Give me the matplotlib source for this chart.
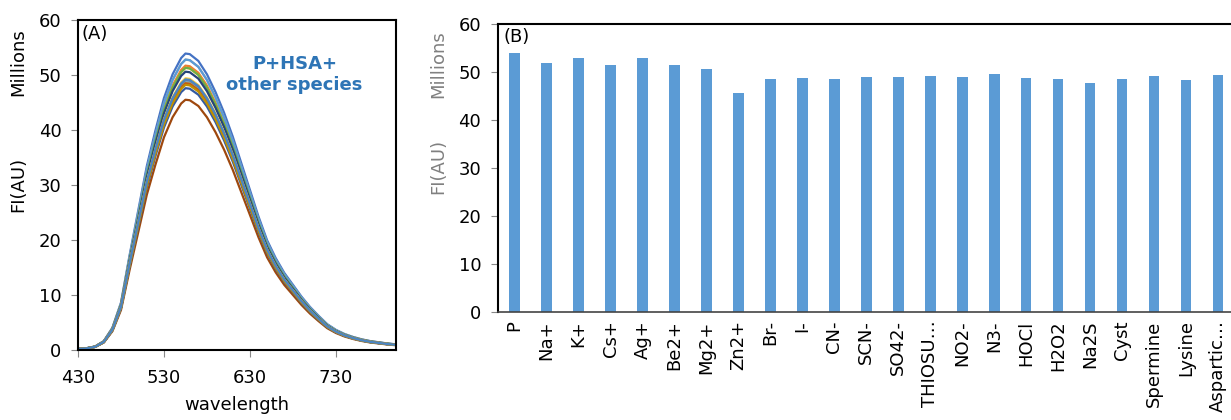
import numpy as np
import matplotlib
matplotlib.use('Agg')
import matplotlib.pyplot as plt

plt.rcParams['font.family'] = ['DejaVu Sans']

# species and peak intensities (millions)
species = ['P', 'Na+', 'K+', 'Cs+', 'Ag+', 'Be2+', 'Mg2+', 'Zn2+', 'Br-', 'I-',
           'CN-', 'SCN-', 'SO42-', 'THIOSU…', 'NO2-', 'N3-', 'HOCl', 'H2O2',
           'Na2S', 'Cyst', 'Spermine', 'Lysine', 'Aspartic…']
peaks = [53.9, 51.7, 52.8, 51.3, 52.8, 51.3, 50.6, 45.5, 48.5, 48.75,
         48.4, 48.9, 48.9, 49.1, 48.9, 49.4, 48.75, 48.5,
         47.6, 48.5, 49.1, 48.2, 49.2]

# emission spectrum shape, relative to peak
wl = [430, 440, 450, 460, 470, 480, 490, 500, 510, 520, 530, 540, 550, 555,
      560, 570, 580, 590, 600, 610, 620, 630, 640, 650, 660, 670, 680, 690,
      700, 710, 720, 730, 740, 750, 760, 770, 780, 790, 800]
rel = [0.004, 0.006, 0.012, 0.03, 0.075, 0.16, 0.32, 0.47, 0.62, 0.74, 0.85,
       0.93, 0.985, 1.0, 0.998, 0.975, 0.93, 0.87, 0.80, 0.72, 0.63, 0.54,
       0.45, 0.37, 0.31, 0.26, 0.22, 0.18, 0.145, 0.115, 0.087, 0.068, 0.054,
       0.044, 0.036, 0.03, 0.026, 0.022, 0.019]

colors = ['#4472C4', '#ED7D31', '#A5A5A5', '#FFC000', '#5B9BD5', '#70AD47',
          '#264478', '#9E480E', '#636363', '#997300', '#255E91', '#43682B',
          '#698ED0', '#F1975A', '#B7B7B7', '#FFCD33', '#7CAFDD', '#8CC168',
          '#335AA1', '#C55A11', '#7C7C7C', '#BF9000', '#4A85C4']

fs = 13
fig = plt.figure(figsize=(12.31, 4.2), dpi=100)

# ---- panel A
ax1 = fig.add_axes([0.0634, 0.1667, 0.2583, 0.7857])
for pk, c in zip(peaks, colors):
    ax1.plot(wl, np.array(rel) * pk, color=c, lw=1.6)
ax1.set_xlim(430, 800)
ax1.set_ylim(0, 60)
ax1.set_xticks([430, 530, 630, 730])
ax1.set_yticks(range(0, 61, 10))
ax1.tick_params(labelsize=fs, direction='out', color='#888888', length=5)
ax1.tick_params(axis='x', pad=9)
ax1.tick_params(axis='y', pad=7)
for s in ax1.spines.values():
    s.set_linewidth(1.5)
ax1.text(0.01, 0.985, '(A)', transform=ax1.transAxes, fontsize=fs, va='top')
ax1.text(0.681, 0.835, 'P+HSA+\nother species', transform=ax1.transAxes,
         fontsize=fs, fontweight='bold', color='#2E75B6', ha='center',
         va='center', linespacing=1.25)
ax1.set_xlabel('wavelength', fontsize=fs, labelpad=6)
fig.text(18 / 1231, 1 - 184 / 420, 'FI(AU)', rotation=90, fontsize=fs,
         ha='center', va='center')
fig.text(18 / 1231, 1 - 62 / 420, 'Millions', rotation=90, fontsize=fs,
         ha='center', va='center')

# ---- panel B
ax2 = fig.add_axes([0.4045, 0.2571, 0.598, 0.6869])
x = np.arange(len(species))
ax2.bar(x, peaks, width=0.33, color='#5B9BD5')
ax2.set_xlim(-0.52, len(species) - 0.5)
ax2.set_ylim(0, 60)
ax2.set_yticks(range(0, 61, 10))
ax2.set_xticks(x)
ax2.set_xticklabels(species, rotation=90)
ax2.tick_params(axis='y', labelsize=fs, direction='out', color='#888888',
                length=5, pad=7)
ax2.tick_params(axis='x', labelsize=fs, length=0, pad=6)
ax2.spines['right'].set_visible(False)
for s in ['left', 'top']:
    ax2.spines[s].set_linewidth(1.5)
ax2.spines['bottom'].set_linewidth(1.2)
ax2.spines['bottom'].set_color('#444444')
ax2.text(0.008, 0.985, '(B)', transform=ax2.transAxes, fontsize=fs, va='top')
fig.text(438 / 1231, 1 - 166 / 420, 'FI(AU)', rotation=90, fontsize=fs,
         ha='center', va='center', color='#808080')
fig.text(438 / 1231, 1 - 64 / 420, 'Millions', rotation=90, fontsize=fs,
         ha='center', va='center', color='#808080')

fig.savefig('out.png', dpi=100)
